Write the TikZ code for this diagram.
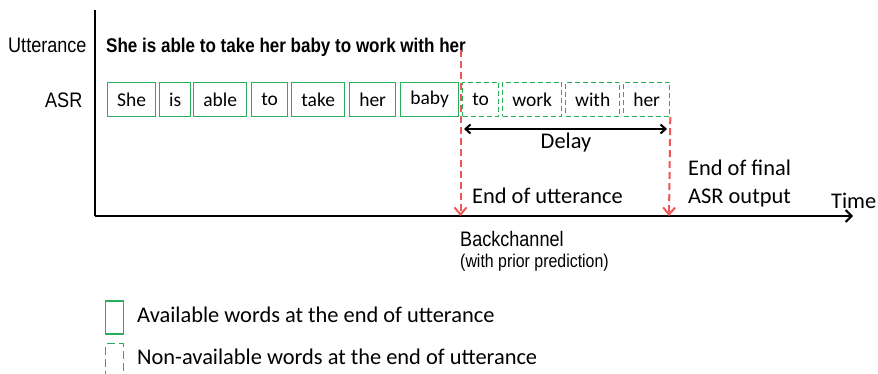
\documentclass[tikz,border=0pt]{standalone}
\usepackage{fontspec}
\setmainfont{Carlito}
\newfontfamily\narrowsans[FakeStretch=0.86]{Liberation Sans}
\usetikzlibrary{arrows.meta}
\definecolor{wordgreen}{RGB}{40,175,90}
\definecolor{markred}{RGB}{240,85,85}
\tikzset{
  word/.style={draw=wordgreen, line width=1.3pt, minimum height=34pt, inner sep=0pt, font=\fontsize{19.5}{22}\selectfont, anchor=west},
  avail/.style={word},
  pending/.style={word, dashed, dash pattern=on 5pt off 3pt},
  marker/.style={draw=markred, line width=2pt, dash pattern=on 7pt off 4pt, -{Straight Barb[length=7pt,width=12pt,line width=2pt]}},
  axis/.style={line width=2pt},
  lbl/.style={font=\fontsize{22.4}{26}\selectfont, inner sep=0pt},
  narrowlbl/.style={font=\narrowsans\fontsize{21}{24}\selectfont, inner sep=0pt},
}
\begin{document}
\begin{tikzpicture}[x=1pt,y=-1pt]
\useasboundingbox (0,0) rectangle (878,374);

% axes
\coordinate (top) at (95,10);
\coordinate (origin) at (95,216);
\coordinate (tend) at (853,216);
\draw[axis] (top) -- (origin);
\draw[axis,-{Straight Barb[length=6pt,width=12pt,line width=2pt]}] (origin) -- (tend);

% row labels
\node[narrowlbl, anchor=west] (utt) at (8,45) {Utterance};
\node[narrowlbl, anchor=west] (asr) at (45,100) {ASR};
\node[anchor=west, inner sep=0pt, font=\narrowsans\bfseries\fontsize{19.8}{22}\selectfont] (sent) at (106,47) {She is able to take her baby to work with her};

% ASR words
\node[avail, minimum width=48pt] (w1) at (107,99.5) {She};
\node[avail, minimum width=31pt] (w2) at (159,99.5) {is};
\node[avail, minimum width=53pt] (w3) at (193,99.5) {able};
\node[avail, minimum width=36pt] (w4) at (251,99.5) {to};
\node[avail, minimum width=53pt] (w5) at (291,99.5) {take};
\node[avail, minimum width=46pt] (w6) at (349,99.5) {her};
\node[avail, minimum width=58pt] (w7) at (400,99.5) {baby};
\node[pending, minimum width=36pt] (w8) at (462,99.5) {to};
\node[pending, minimum width=59pt] (w9) at (502,99.5) {work};
\node[pending, minimum width=54pt] (w10) at (565,99.5) {with};
\node[pending, minimum width=46pt] (w11) at (623,99.5) {her};

% end-of-utterance and end-of-output markers
\coordinate (eutop) at (460.5,50);
\coordinate (eubot) at (460.5,216);
\coordinate (eobot) at (669,216);
\draw[marker] (eutop) -- (eubot);
\draw[marker] (w11.south east) -- (eobot);

% delay
\coordinate (dl) at (464,129);
\coordinate (dr) at (667,129);
\draw[line width=2pt, {Straight Barb[length=5pt,width=9pt,line width=2pt]}-{Straight Barb[length=5pt,width=9pt,line width=2pt]}] (dl) -- (dr);
\node[lbl] (delay) at (566,143) {Delay};

\node[lbl, anchor=west] (eu) at (472,196) {End of utterance};
\node[lbl, anchor=west, align=left] (eo) at (688,184) {End of final\\[2pt]ASR output};
\node[lbl, anchor=west] (time) at (831,201) {Time};

\node[narrowlbl, anchor=west] (bc) at (460,239) {Backchannel};
\node[anchor=west, inner sep=0pt, font=\narrowsans\fontsize{18.5}{20}\selectfont] (bcn) at (460,263) {(with prior prediction)};

% legend
\node[avail, minimum width=18pt, minimum height=33pt] (lg1) at (105,317.5) {};
\node[pending, dash pattern=on 8pt off 4pt, minimum width=18pt, minimum height=33pt] (lg2) at (105,360) {};
\node[lbl, anchor=west] (lt1) at (137,315) {Available words at the end of utterance};
\node[lbl, anchor=west] (lt2) at (137,357) {Non-available words at the end of utterance};
\end{tikzpicture}
\end{document}
